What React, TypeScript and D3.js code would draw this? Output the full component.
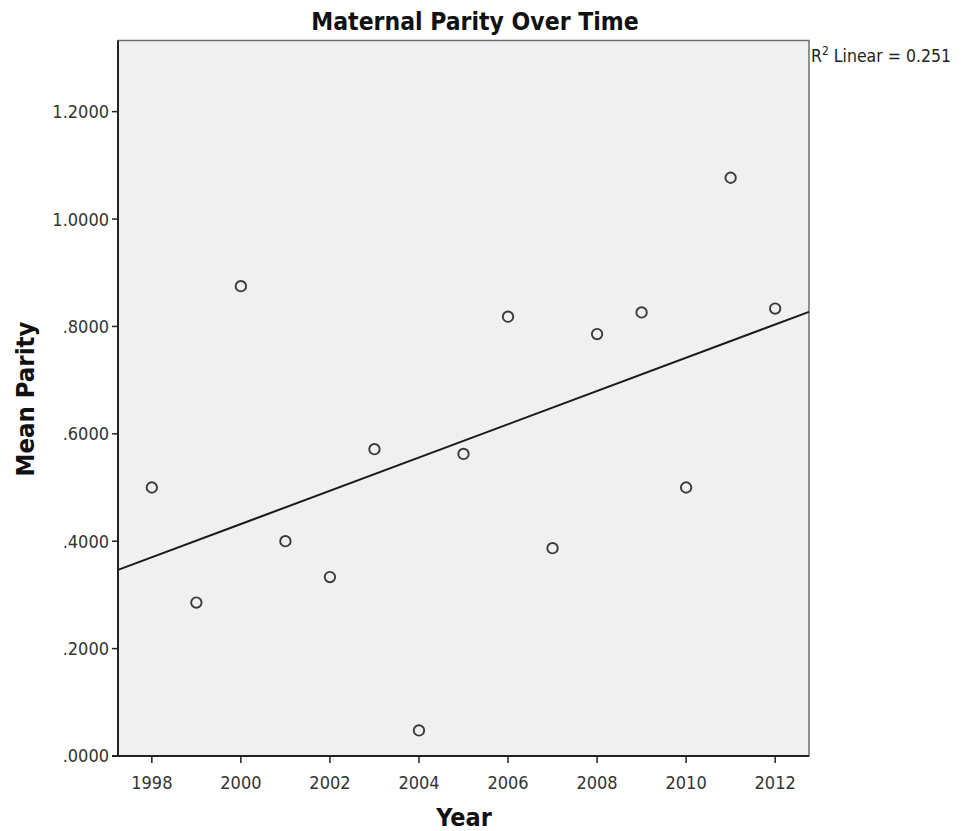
import React from "react";
import * as d3 from "d3";

const years = [1998, 1999, 2000, 2001, 2002, 2003, 2004, 2005, 2006, 2007, 2008, 2009, 2010, 2011, 2012];
const meanParity = [0.5, 0.2857, 0.875, 0.4, 0.3333, 0.5714, 0.0476, 0.5625, 0.8182, 0.3871, 0.7857, 0.8261, 0.5, 1.0769, 0.8333];
const yTicks = [0, 0.2, 0.4, 0.6, 0.8, 1.0, 1.2];
const xTicks = [1998, 2000, 2002, 2004, 2006, 2008, 2010, 2012];

const W = 964, H = 831;
const left = 118, right = 809, top = 40.5, bottom = 756;

export default function App() {
  const x = d3.scaleLinear().domain([1997.24, 2012.76]).range([left, right]);
  const y = d3.scaleLinear().domain([0, 1.3325]).range([bottom, top]);
  const mx = d3.mean(years)!, my = d3.mean(meanParity)!;
  let sxy = 0, sxx = 0;
  years.forEach((v, i) => { sxy += (v - mx) * (meanParity[i] - my); sxx += (v - mx) ** 2; });
  const slope = sxy / sxx;
  const fit = (v: number) => my + slope * (v - mx);
  const [d0, d1] = x.domain();
  const line = d3.line<number>().x(d => x(d)).y(d => y(fit(d)));
  const fmtY = (v: number) => { const s = v.toFixed(4); return s.startsWith("0") ? s.slice(1) : s; };
  const font = "'DejaVu Sans Condensed', 'Liberation Sans Narrow', 'Open Sans', sans-serif";
  return (
    <svg width={W} height={H} style={{ position: "absolute", left: 0, top: 0, background: "#fff" }} fontFamily={font}>
      <rect x={left} y={top} width={right - left} height={bottom - top} fill="#f0f0f0" stroke="#6e6e6e" strokeWidth={1.5} />
      <text x={475} y={30} textAnchor="middle" fontSize={24.5} fontWeight="bold" fill="#111">Maternal Parity Over Time</text>
      {yTicks.map(t => (
        <g key={t}>
          <line x1={left - 6} x2={left} y1={y(t)} y2={y(t)} stroke="#222" strokeWidth={1.5} />
          <text x={left - 9} y={y(t)} dy="0.36em" textAnchor="end" fontSize={18} fill="#333">{fmtY(t)}</text>
        </g>
      ))}
      {xTicks.map(t => (
        <g key={t}>
          <line x1={x(t)} x2={x(t)} y1={bottom} y2={bottom + 7} stroke="#222" strokeWidth={1.5} />
          <text x={x(t)} y={bottom + 33} textAnchor="middle" fontSize={18} fill="#333">{t}</text>
        </g>
      ))}
      <line x1={left} x2={left} y1={top} y2={bottom + 1} stroke="#222" strokeWidth={2} />
      <line x1={left - 6} x2={right} y1={bottom} y2={bottom} stroke="#222" strokeWidth={2} />
      <path d={line([d0, d1]) || ""} stroke="#1a1a1a" strokeWidth={2} fill="none" />
      {years.map((v, i) => (
        <circle key={v} cx={x(v)} cy={y(meanParity[i])} r={5.2} fill="none" stroke="#3a3a3a" strokeWidth={1.9} />
      ))}
      <text x={464} y={826} textAnchor="middle" fontSize={25} fontWeight="bold" fill="#111">Year</text>
      <text transform={`translate(34, 399) rotate(-90)`} textAnchor="middle" fontSize={25.5} fontWeight="bold" fill="#111">Mean Parity</text>
      <text x={811} y={62} fontSize={17.5} fill="#222">R<tspan dy={-7} fontSize={12}>2</tspan><tspan dy={7}> Linear = 0.251</tspan></text>
    </svg>
  );
}
